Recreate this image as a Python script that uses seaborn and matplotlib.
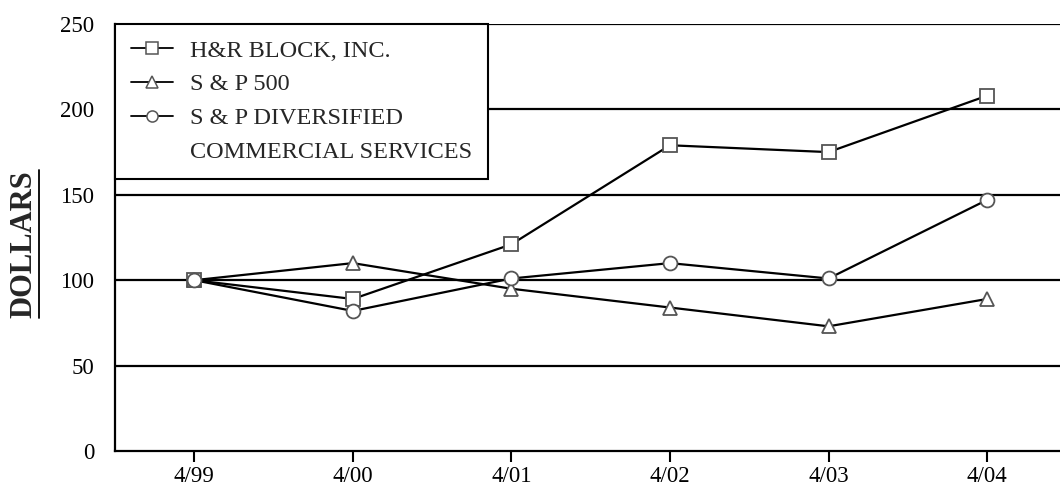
import matplotlib
matplotlib.use('Agg')
import matplotlib.pyplot as plt
import seaborn as sns
import pandas as pd
from matplotlib.lines import Line2D
from matplotlib.transforms import IdentityTransform

# values
years = ['4/99', '4/00', '4/01', '4/02', '4/03', '4/04']
hr_block = [100, 89, 121, 179, 175, 208]
sp500 = [100, 110, 95, 84, 73, 89]
sp_div = [100, 82, 101, 110, 101, 147]

series_names = ['H&R BLOCK, INC.', 'S & P 500', 'S & P DIVERSIFIED COMMERCIAL SERVICES']
legend_labels = ['H&R BLOCK, INC.', 'S & P 500', 'S & P DIVERSIFIED', 'COMMERCIAL SERVICES']
series_markers = ['s', '^', 'o']

df = pd.DataFrame({
    'pos': list(range(len(years))) * 3,
    'value': hr_block + sp500 + sp_div,
    'series': [series_names[0]] * 6 + [series_names[1]] * 6 + [series_names[2]] * 6,
})

sns.set_theme(style='white')
plt.rcParams['font.family'] = ['Liberation Serif', 'DejaVu Serif']

fig = plt.figure(figsize=(10.6, 4.88), dpi=100)
ax = fig.add_axes([115 / 1060, 37 / 488, 1 - 115 / 1060, 427 / 488])

sns.lineplot(data=df, x='pos', y='value', style='series',
             markers=dict(zip(series_names, series_markers)), dashes=False,
             color='black', lw=1.6, markersize=10, mfc='white', mec='#555555',
             mew=1.3, legend=False, ax=ax)

ax.set_xlim(-0.5, 5.46)
ax.set_ylim(0, 250)
ax.set_yticks([0, 50, 100, 150, 200, 250])
ax.set_xticks(range(len(years)))
ax.set_xticklabels(years)
ax.set_xlabel('')
ax.set_ylabel('DOLLARS', fontsize=22, fontweight='bold')
ax.yaxis.set_label_coords(-0.081, 0.485)

for v in [50, 100, 150, 200, 250]:
    ax.axhline(v, color='black', lw=1.6, zorder=0.5)

for s in ['top', 'right']:
    ax.spines[s].set_visible(False)
for s in ['left', 'bottom']:
    ax.spines[s].set_color('black')
    ax.spines[s].set_linewidth(1.6)

ax.tick_params(axis='y', length=0, labelsize=16.5, pad=15, colors='black')
ax.tick_params(axis='x', direction='out', length=8, width=1.5, labelsize=16.5,
               pad=3, colors='black', bottom=True)

handles = [Line2D([], [], color='black', lw=1.3, marker=m, markersize=8,
                  mfc='white', mec='#555555', mew=1.1)
           for m in series_markers]
handles.append(Line2D([], [], linestyle='none'))
leg = ax.legend(handles, legend_labels, loc='upper left', bbox_to_anchor=(0, 1),
                frameon=True, fancybox=False, fontsize=17.5, handlelength=1.75,
                handletextpad=0.7, borderpad=0.65, labelspacing=0.48,
                borderaxespad=0)
leg.get_frame().set_edgecolor('black')
leg.get_frame().set_linewidth(1.5)
leg.get_frame().set_alpha(1)
leg.set_zorder(5)

# underline under the rotated y label
fig.canvas.draw()
bb = ax.yaxis.label.get_window_extent()
fig.add_artist(Line2D([bb.x1 + 1, bb.x1 + 1], [bb.y0, bb.y1], color='black',
                      lw=1.3, transform=IdentityTransform()))

fig.savefig('out.png', dpi=100)
